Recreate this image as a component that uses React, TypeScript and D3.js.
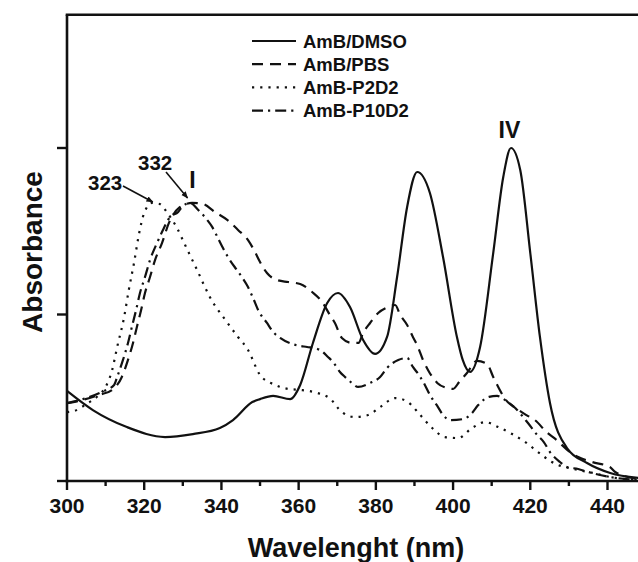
import React from "react";
import * as d3 from "d3";

// ---- data (wavelength nm, absorbance a.u.) ----
const dmsoX = [300, 306.7, 315.5, 325.4, 332.6, 339.6, 343, 348, 350, 353.4, 357.8, 360.4, 363.7, 367.4, 370.2, 373.3, 376.7, 379.8, 382.9, 385.5, 388.1, 390.7, 394, 397.4, 401, 402.5, 404.4, 407, 410.4, 413, 415, 417.4, 420, 422.5, 425.1, 429.5, 434.7, 440.7, 448];
const dmsoY = [0.541, 0.426, 0.324, 0.264, 0.282, 0.318, 0.366, 0.474, 0.492, 0.511, 0.492, 0.577, 0.829, 1.069, 1.129, 1.045, 0.847, 0.763, 0.865, 1.225, 1.646, 1.856, 1.73, 1.345, 0.865, 0.727, 0.655, 0.805, 1.369, 1.826, 2.0, 1.868, 1.369, 0.865, 0.468, 0.198, 0.108, 0.048, 0.018];

const pbsX = [300, 303.9, 308.3, 311.7, 314.2, 315.8, 317.1, 318.1, 319.2, 320.2, 321.5, 322.8, 324.6, 326.4, 329, 332.4, 335.2, 338.3, 341.5, 344.3, 346.9, 348.7, 350, 351.8, 354.4, 357.3, 360.4, 363.5, 366.1, 368.1, 369.4, 371.2, 373.8, 375.5, 376.7, 378.5, 380.6, 383.2, 385, 386.3, 388.1, 389.6, 390.9, 392.2, 393.5, 395.9, 398.4, 400, 401.6, 403.6, 406.2, 408.8, 410.4, 411.7, 413.5, 416.6, 419, 421.2, 424.2, 426.8, 430.3, 432.4, 436, 440.6, 442, 448];
const pbsY = [0.468, 0.486, 0.517, 0.547, 0.625, 0.727, 0.829, 0.925, 1.027, 1.129, 1.225, 1.327, 1.429, 1.55, 1.64, 1.67, 1.664, 1.616, 1.568, 1.508, 1.447, 1.375, 1.315, 1.249, 1.207, 1.195, 1.183, 1.135, 1.075, 0.997, 0.949, 0.859, 0.829, 0.829, 0.889, 0.949, 1.009, 1.045, 1.057, 0.997, 0.937, 0.865, 0.805, 0.727, 0.667, 0.589, 0.559, 0.553, 0.595, 0.649, 0.721, 0.703, 0.625, 0.565, 0.492, 0.432, 0.396, 0.366, 0.294, 0.246, 0.174, 0.144, 0.114, 0.084, 0.054, 0.012];

const p2X = [300, 301.8, 305, 308, 310, 311.7, 313, 314.8, 316, 317.4, 318.7, 320, 322, 324, 326, 328.5, 330.6, 333.7, 337, 341.4, 344.3, 346.9, 350, 353.9, 357.3, 360.4, 364.8, 368, 371.2, 374.6, 378, 381.1, 385, 388.3, 391.5, 394.6, 397.9, 401.3, 404.9, 408.3, 411.7, 415.3, 418.7, 422, 425.6, 432.4, 436.3, 440.7, 448];
const p2Y = [0.414, 0.42, 0.462, 0.511, 0.565, 0.667, 0.805, 0.985, 1.147, 1.315, 1.49, 1.61, 1.67, 1.664, 1.61, 1.52, 1.417, 1.267, 1.105, 0.955, 0.865, 0.787, 0.637, 0.577, 0.553, 0.547, 0.529, 0.498, 0.414, 0.384, 0.396, 0.444, 0.498, 0.474, 0.396, 0.318, 0.264, 0.258, 0.318, 0.354, 0.324, 0.282, 0.234, 0.174, 0.114, 0.066, 0.048, 0.024, 0.006];

const p10X = [300, 305, 309, 312.2, 313, 314.5, 315.8, 316.8, 317.9, 318.9, 320.2, 321.5, 323.3, 324.6, 326.7, 328.8, 330, 331.9, 334, 336.3, 337.6, 339.1, 340.4, 341.7, 344, 345.3, 346.6, 348.2, 349.5, 351.8, 353.4, 355.2, 358.3, 360.4, 362.2, 365.5, 367.6, 368.9, 370.7, 372, 373.8, 375.4, 378.5, 381.1, 382.9, 385.8, 388.1, 389.6, 391.5, 392.7, 394, 396.1, 397.4, 399.5, 402.6, 404.9, 406.5, 409.3, 411.4, 413.5, 416.1, 419.4, 421.8, 423.5, 425.1, 427.7, 429.5, 432.4, 435, 440.7, 448];
const p10Y = [0.468, 0.498, 0.535, 0.577, 0.625, 0.727, 0.829, 0.925, 1.027, 1.129, 1.225, 1.327, 1.429, 1.495, 1.586, 1.616, 1.652, 1.67, 1.628, 1.568, 1.526, 1.459, 1.399, 1.345, 1.267, 1.225, 1.177, 1.099, 1.027, 0.949, 0.895, 0.859, 0.823, 0.811, 0.805, 0.787, 0.745, 0.715, 0.655, 0.625, 0.589, 0.565, 0.589, 0.625, 0.679, 0.727, 0.739, 0.685, 0.625, 0.577, 0.517, 0.444, 0.396, 0.366, 0.372, 0.408, 0.456, 0.505, 0.511, 0.486, 0.438, 0.348, 0.276, 0.234, 0.174, 0.114, 0.084, 0.072, 0.054, 0.024, 0.006];

const seriesNames = ["AmB/DMSO", "AmB/PBS", "AmB-P2D2", "AmB-P10D2"];
const xMajorTicks = [300, 320, 340, 360, 380, 400, 420, 440];
const xMinorTicks = [310, 330, 350, 370, 390, 410, 430];
const yTicks = [0, 1, 2];
const annotations = [
  { label: "323", tipX: 323, tipY: 1.67 },
  { label: "332", tipX: 332, tipY: 1.67 },
];
const peakLabels = [
  { label: "I", x: 332.5, y: 1.76 },
  { label: "IV", x: 414.6, y: 2.06 },
];

const W = 638;
const H = 562;
const FONT = "'Liberation Sans', Arial, Helvetica, sans-serif";

export default function App() {
  const x = d3.scaleLinear().domain([300, 440]).range([67, 607.5]);
  const y = d3.scaleLinear().domain([0, 2.8]).range([481, 14.8]);
  const line = d3
    .line<[number, number]>()
    .x((d) => x(d[0]))
    .y((d) => y(d[1]))
    .curve(d3.curveMonotoneX);

  const zip = (a: number[], b: number[]) => a.map((v, i) => [v, b[i]] as [number, number]);
  const series = [
    { name: seriesNames[0], pts: zip(dmsoX, dmsoY), dash: "none" },
    { name: seriesNames[1], pts: zip(pbsX, pbsY), dash: "11,7" },
    { name: seriesNames[2], pts: zip(p2X, p2Y), dash: "2.2,6" },
    { name: seriesNames[3], pts: zip(p10X, p10Y), dash: "11,5,2.2,5" },
  ];

  const x0 = x(300);
  const yb = y(0);
  const yt = y(2.8);

  return (
    <svg
      width={W}
      height={H}
      style={{ position: "absolute", left: 0, top: 0, background: "#fff" }}
      fontFamily={FONT}
    >
      <defs>
        <marker id="arr" viewBox="0 0 10 10" refX="9" refY="5" markerWidth="7" markerHeight="7" orient="auto" markerUnits="userSpaceOnUse">
          <path d="M0,1 L10,5 L0,9 z" fill="#111" />
        </marker>
      </defs>
      <rect x={0} y={0} width={W} height={H} fill="#fff" />

      {/* data lines */}
      <g fill="none" stroke="#111" strokeWidth={2.2} strokeLinecap="butt" strokeLinejoin="round">
        {series.map((s) => (
          <path key={s.name} d={line(s.pts) || ""} strokeDasharray={s.dash === "none" ? undefined : s.dash} />
        ))}
      </g>

      {/* axes frame */}
      <g stroke="#111" strokeWidth={2.6} fill="none">
        <line x1={x0} y1={yt} x2={x0} y2={yb + 1.3} />
        <line x1={x0 - 1.3} y1={yb} x2={W} y2={yb} />
        <line x1={x0 - 1.3} y1={yt} x2={W} y2={yt} />
      </g>

      {/* ticks */}
      <g stroke="#111" strokeWidth={2.4}>
        {xMajorTicks.map((t) => (
          <line key={"M" + t} x1={x(t)} x2={x(t)} y1={yb} y2={yb + 9} />
        ))}
        {xMinorTicks.map((t) => (
          <line key={"m" + t} x1={x(t)} x2={x(t)} y1={yb} y2={yb + 5} />
        ))}
        {yTicks.map((t) => (
          <line key={"y" + t} x1={x0 - 10} x2={x0} y1={y(t)} y2={y(t)} />
        ))}
      </g>
      <g fontSize={21} fontWeight="bold" fill="#111" textAnchor="middle">
        {xMajorTicks.map((t) => (
          <text key={"l" + t} x={x(t)} y={513}>
            {t}
          </text>
        ))}
      </g>

      {/* axis titles */}
      <text x={356} y={557} fontSize={27} fontWeight="bold" textAnchor="middle" fill="#111">
        Wavelenght (nm)
      </text>
      <text
        transform={`translate(42,252) rotate(-90)`}
        fontSize={28}
        fontWeight="bold"
        textAnchor="middle"
        fill="#111"
      >
        Absorbance
      </text>

      {/* legend */}
      <g>
        {series.map((s, i) => {
          const ly = 41 + i * 23.2;
          return (
            <g key={"lg" + s.name}>
              <line
                x1={252}
                x2={296}
                y1={ly}
                y2={ly}
                stroke="#111"
                strokeWidth={2.2}
                strokeDasharray={s.dash === "none" ? undefined : s.dash}
              />
              <text x={303} y={ly + 6.5} fontSize={18.5} fontWeight="bold" fill="#111">
                {s.name}
              </text>
            </g>
          );
        })}
      </g>

      {/* annotations */}
      <g fontSize={20.5} fontWeight="bold" fill="#111">
        <text x={88} y={190}>{annotations[0].label}</text>
        <line x1={123} y1={186} x2={x(annotations[0].tipX) - 3} y2={y(annotations[0].tipY) - 1} stroke="#111" strokeWidth={1.6} markerEnd="url(#arr)" />
        <text x={138} y={170}>{annotations[1].label}</text>
        <line x1={166} y1={172} x2={x(annotations[1].tipX) - 3} y2={y(annotations[1].tipY) - 5} stroke="#111" strokeWidth={1.6} markerEnd="url(#arr)" />
      </g>
      <g fontSize={23} fontWeight="bold" fill="#111" textAnchor="middle">
        {peakLabels.map((p) => (
          <text key={p.label} x={x(p.x)} y={y(p.y)}>
            {p.label}
          </text>
        ))}
      </g>
    </svg>
  );
}
